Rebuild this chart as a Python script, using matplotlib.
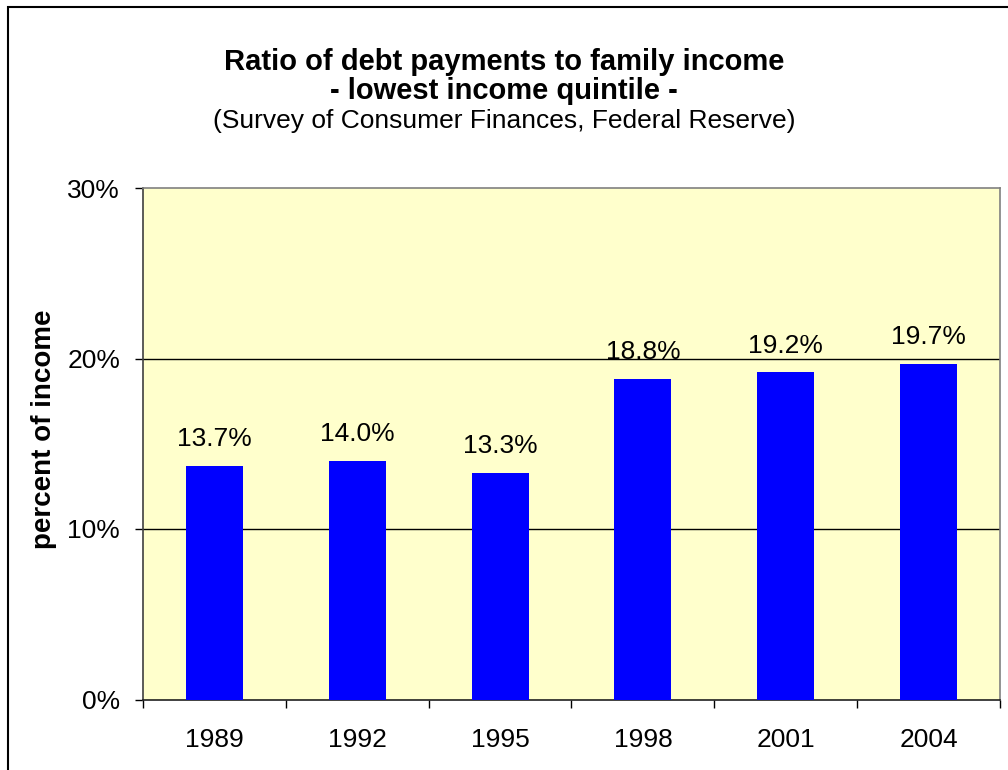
import matplotlib

matplotlib.use("Agg")
import matplotlib.pyplot as plt
from matplotlib.patches import Rectangle
from matplotlib.ticker import FixedLocator, FuncFormatter

years = ["1989", "1992", "1995", "1998", "2001", "2004"]
ratios = [13.7, 14.0, 13.3, 18.8, 19.2, 19.7]
y_ticks = [0, 10, 20, 30]

plt.rcParams["font.family"] = ["Liberation Sans", "DejaVu Sans"]

W, H = 1008, 770
fig = plt.figure(figsize=(W / 100, H / 100), dpi=100)
ax = fig.add_axes([143 / W, (H - 699.5) / H, (1000 - 143) / W, (699.5 - 188) / H])

# chart frame (only left/top edges fall inside the image)
fig.add_artist(Rectangle((8 / W, -0.1), 2.0, (H - 6.5) / H + 0.1,
                         transform=fig.transFigure, fill=False,
                         edgecolor="black", linewidth=1.5))

ax.set_facecolor("#FFFFCC")
x = list(range(len(years)))
ax.bar(x, ratios, width=0.4, color="#0000FF", zorder=3)

for xi, v in zip(x, ratios):
    ax.annotate(f"{v:.1f}%", (xi, v), xytext=(0, 10.5), textcoords="offset points",
                ha="center", va="bottom", fontsize=19, zorder=4)

ax.set_xlim(-0.5, len(years) - 0.5)
ax.set_ylim(0, 30)
ax.set_yticks(y_ticks)
ax.yaxis.set_major_formatter(FuncFormatter(lambda v, p: f"{v:.0f}%"))
for t in y_ticks[1:-1]:
    ax.axhline(t, color="black", linewidth=1.0, zorder=2)

# ticks between categories, labels centred under the bars
ax.xaxis.set_major_locator(FixedLocator([i - 0.5 for i in range(len(years) + 1)]))
ax.xaxis.set_minor_locator(FixedLocator(x))
ax.set_xticklabels([], minor=False)
ax.set_xticklabels(years, minor=True)
ax.tick_params(axis="x", which="major", length=6, width=1, color="black", direction="out")
ax.tick_params(axis="x", which="minor", length=0, pad=20.5, labelsize=19)
ax.tick_params(axis="y", length=6, width=1, color="black", direction="out", pad=10.5, labelsize=19)

for side in ["top", "right"]:
    ax.spines[side].set_color("#808080")
ax.spines["left"].set_color("#404040")
ax.spines["bottom"].set_color("#202020")
for s in ax.spines.values():
    s.set_linewidth(1.2)

fig.text(44 / W, (H - 429) / H, "percent of income", rotation=90, ha="center", va="center",
         fontsize=20, fontweight="bold")

fig.text(0.5, (H - 62) / H, "Ratio of debt payments to family income", ha="center", va="center",
         fontsize=21, fontweight="bold")
fig.text(0.5, (H - 91) / H, "- lowest income quintile -", ha="center", va="center",
         fontsize=21, fontweight="bold")
fig.text(0.5, (H - 121) / H, "(Survey of Consumer Finances, Federal Reserve)", ha="center",
         va="center", fontsize=19)

fig.savefig("out.png", dpi=100)
